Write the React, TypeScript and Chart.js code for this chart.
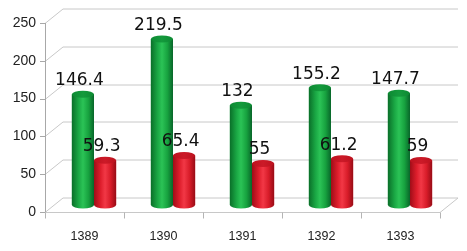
import React, { useEffect, useRef } from "react";
import { Chart, registerables } from "chart.js";

Chart.register(...registerables);

const categories = ["1389", "1390", "1391", "1392", "1393"];
const greenValues = [146.4, 219.5, 132, 155.2, 147.7];
const redValues = [59.3, 65.4, 55, 61.2, 59];
const yTickValues = [0, 50, 100, 150, 200, 250];

const FRONT = { dx: -9.5, dy: 7 };
const BACK = { dx: 8.5, dy: -7.5 };

const greenStops: [number, string][] = [
  [0, "#0a6f29"],
  [0.3, "#1aa744"],
  [0.5, "#2bc356"],
  [0.75, "#17a23f"],
  [1, "#08662a"],
];
const redStops: [number, string][] = [
  [0, "#a00d18"],
  [0.3, "#de1e2c"],
  [0.5, "#f23846"],
  [0.75, "#d81c29"],
  [1, "#980c16"],
];

const framePlugin = {
  id: "frame3d",
  beforeDatasetsDraw(chart: any) {
    const { ctx, chartArea } = chart;
    const y = chart.scales.y;
    const x = chart.scales.x;
    const { left, right, bottom, top } = chartArea;
    ctx.save();
    ctx.lineWidth = 1;
    yTickValues.forEach((v) => {
      const py = Math.round(y.getPixelForValue(v)) + 0.5;
      ctx.strokeStyle = "#c8c8c8";
      ctx.beginPath();
      ctx.moveTo(left + BACK.dx, py + BACK.dy);
      ctx.lineTo(right + BACK.dx, py + BACK.dy);
      ctx.stroke();
      ctx.beginPath();
      ctx.moveTo(left + FRONT.dx, py + FRONT.dy);
      ctx.lineTo(left + BACK.dx, py + BACK.dy);
      ctx.stroke();
      ctx.strokeStyle = "#a8a8a8";
      ctx.beginPath();
      ctx.moveTo(left + FRONT.dx - 5, py + FRONT.dy);
      ctx.lineTo(left + FRONT.dx, py + FRONT.dy);
      ctx.stroke();
    });
    const fx = Math.round(left + FRONT.dx) + 0.5;
    ctx.strokeStyle = "#a8a8a8";
    ctx.beginPath();
    ctx.moveTo(fx, Math.round(top) + FRONT.dy);
    ctx.lineTo(fx, Math.round(bottom) + FRONT.dy + 0.5);
    ctx.stroke();
    const by = Math.round(bottom) + FRONT.dy + 0.5;
    ctx.strokeStyle = "#c8c8c8";
    ctx.beginPath();
    ctx.moveTo(left + FRONT.dx, by);
    ctx.lineTo(right + FRONT.dx, by);
    ctx.lineTo(right + BACK.dx, Math.round(bottom) + BACK.dy + 0.5);
    ctx.stroke();
    ctx.strokeStyle = "#b4b4b4";
    const n = categories.length;
    const cw = n > 1 ? x.getPixelForValue(1) - x.getPixelForValue(0) : right - left;
    for (let i = 0; i <= n; i++) {
      const px = Math.round(x.getPixelForValue(i) - cw / 2 + FRONT.dx) + 0.5;
      ctx.beginPath();
      ctx.moveTo(px, by);
      ctx.lineTo(px, by + 6);
      ctx.stroke();
    }
    ctx.restore();
  },
  afterDatasetsDraw(chart: any) {
    const { ctx } = chart;
    chart.data.datasets.forEach((ds: any, di: number) => {
      const meta = chart.getDatasetMeta(di);
      const stops = di === 0 ? greenStops : redStops;
      const capColor = di === 0 ? "#0d8a33" : "#bc121e";
      meta.data.forEach((el: any, i: number) => {
        const { x, y, base, width } = el.getProps(["x", "y", "base", "width"], true);
        const rx = width / 2;
        const ry = 3.5;
        const l = x - rx;
        const g = ctx.createLinearGradient(l, 0, l + width, 0);
        stops.forEach(([o, c]) => g.addColorStop(o, c));
        ctx.save();
        ctx.fillStyle = g;
        ctx.beginPath();
        ctx.moveTo(l, y);
        ctx.lineTo(l, base);
        ctx.ellipse(x, base, rx, ry, 0, Math.PI, 0, true);
        ctx.lineTo(l + width, y);
        ctx.closePath();
        ctx.fill();
        const cg = ctx.createLinearGradient(l, 0, l + width, 0);
        cg.addColorStop(0, capColor);
        cg.addColorStop(0.5, di === 0 ? "#149a3c" : "#cc1a28");
        cg.addColorStop(1, capColor);
        ctx.fillStyle = cg;
        ctx.beginPath();
        ctx.ellipse(x, y, rx, ry, 0, 0, Math.PI * 2);
        ctx.fill();
        ctx.fillStyle = "#111111";
        ctx.font = "17px 'DejaVu Sans'";
        ctx.textAlign = "center";
        ctx.textBaseline = "middle";
        ctx.fillText(String(ds.data[i]), x - 3.5, y - 13.5);
        ctx.restore();
      });
    });
  },
};

export default function App() {
  const ref = useRef<HTMLCanvasElement | null>(null);
  useEffect(() => {
    if (!ref.current) return;
    const chart = new Chart(ref.current, {
      type: "bar",
      data: {
        labels: categories,
        datasets: [
          { label: "A", data: greenValues, backgroundColor: "#1aa744", categoryPercentage: 0.56, barPercentage: 1 },
          { label: "B", data: redValues, backgroundColor: "#de1e2c", categoryPercentage: 0.56, barPercentage: 1 },
        ],
      },
      options: {
        responsive: false,
        animation: false,
        layout: { padding: { top: 16, right: 17.5, bottom: 0, left: 0 } },
        plugins: { legend: { display: false }, tooltip: { enabled: false } },
        scales: {
          x: {
            grid: { display: false, drawTicks: false },
            border: { display: false },
            ticks: {
              padding: 24,
              labelOffset: FRONT.dx,
              color: "#222222",
              font: { family: "'Liberation Sans', Arial", size: 12.5 },
              maxRotation: 0,
            },
            afterFit: (s: any) => {
              s.height = 46;
              s.paddingLeft = 0;
              s.paddingRight = 0;
            },
          },
          y: {
            min: 0,
            max: 250,
            grid: { display: false, drawTicks: false },
            border: { display: false },
            ticks: {
              padding: 18.5,
              labelOffset: FRONT.dy,
              color: "#222222",
              font: { family: "'Liberation Sans', Arial", size: 14 },
            },
            afterBuildTicks: (s: any) => {
              s.ticks = yTickValues.map((v) => ({ value: v }));
            },
            afterFit: (s: any) => {
              s.width = 54.5;
              s.paddingTop = 0;
              s.paddingBottom = 0;
            },
          },
        },
      },
      plugins: [framePlugin],
    });
    return () => chart.destroy();
  }, []);
  return (
    <div style={{ position: "fixed", left: 0, top: 0, width: 467, height: 251, background: "#fff" }}>
      <canvas ref={ref} width={467} height={251} />
    </div>
  );
}
